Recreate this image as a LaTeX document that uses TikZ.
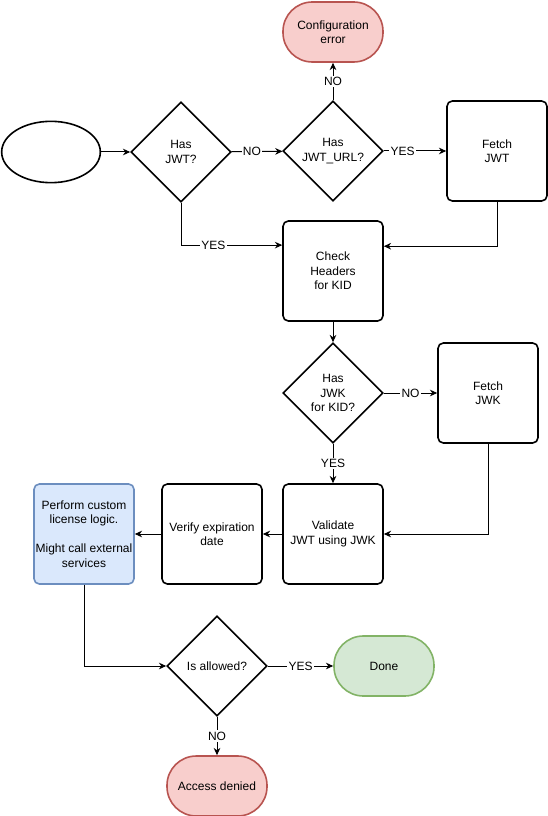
\documentclass[tikz,border=0pt]{standalone}
\usepackage{fontspec}
\setmainfont{Liberation Sans}
\usetikzlibrary{shapes.geometric,arrows.meta}

\definecolor{redfill}{HTML}{F8CECC}
\definecolor{redline}{HTML}{B85450}
\definecolor{greenfill}{HTML}{D5E8D4}
\definecolor{greenline}{HTML}{82B366}
\definecolor{bluefill}{HTML}{DAE8FC}
\definecolor{blueline}{HTML}{6C8EBF}

\begin{document}
\begin{tikzpicture}[>={Stealth[length=5.5pt,width=5pt,inset=1.8pt]},
	x=0.75pt, y=-0.75pt,
	every node/.style={font=\fontsize{9}{10.9}\selectfont, align=center},
	box/.style={draw, line width=1.2pt, rounded corners=4pt, minimum width=75pt,
		minimum height=75pt, inner sep=0pt},
	decision/.style={draw, diamond, aspect=1, line width=1.2pt, minimum width=75pt,
		minimum height=75pt, inner sep=0pt},
	terminal/.style={draw, line width=1.2pt, rounded corners=22pt, minimum width=75pt,
		minimum height=45pt},
	lbl/.style={fill=white, inner sep=1pt},
	flow/.style={->, line width=0.75pt}]
	\useasboundingbox (0,0) rectangle (548,816);

	\node[draw, ellipse, line width=1.2pt, minimum width=74pt, minimum height=46pt]
	(start) at (51,152) {};
	\node[decision] (hasjwt) at (181,152) {Has\\JWT?};
	\node[decision] (hasurl) at (333,151) {Has\\JWT\_URL?};
	\node[terminal, fill=redfill, draw=redline] (conferr) at (333,32) {Configuration\\error};
	\node[box] (fetchjwt) at (497,151) {Fetch\\JWT};

	\node[box] (check) at (333,271) {Check\\Headers\\for KID};
	\node[decision] (hasjwk) at (333,393) {Has\\JWK\\for KID?};
	\node[box] (fetchjwk) at (488,393) {Fetch\\JWK};

	\node[box] (validate) at (333,534) {Validate\\JWT using JWK};
	\node[box] (verify) at (212,534) {Verify expiration\\date};
	\node[box, fill=bluefill, draw=blueline] (custom) at (84,534)
	{Perform custom\\license logic.\\[10.9pt]Might call external\\services};

	\node[decision] (allowed) at (217,666) {Is allowed?};
	\node[terminal, fill=greenfill, draw=greenline] (done) at (384,666) {Done};
	\node[terminal, fill=redfill, draw=redline] (denied) at (217,786) {Access denied};

	\draw[flow] (start) -- (hasjwt);
	\draw[flow] (hasjwt) -- node[lbl, pos=0.4] {NO} (hasurl);
	\draw[flow] (hasurl) -- node[lbl] {NO} (conferr);
	\draw[flow] (hasurl) -- node[lbl, pos=0.3] {YES} (fetchjwt);
	\draw[flow] (hasjwt.south) |- node[lbl, pos=0.66] {YES} (check.153.43);
	\draw[flow] (fetchjwt.south) |- (check.26.57);

	\draw[flow] (check) -- (hasjwk);
	\draw[flow] (hasjwk) -- node[lbl] {NO} (fetchjwk);
	\draw[flow] (hasjwk) -- node[lbl] {YES} (validate);
	\draw[flow] (fetchjwk.south) |- (validate.east);
	\draw[flow] (validate) -- (verify);
	\draw[flow] (verify) -- (custom);

	\draw[flow] (custom.south) |- (allowed.west);
	\draw[flow] (allowed) -- node[lbl] {YES} (done);
	\draw[flow] (allowed) -- node[lbl] {NO} (denied);
\end{tikzpicture}
\end{document}
